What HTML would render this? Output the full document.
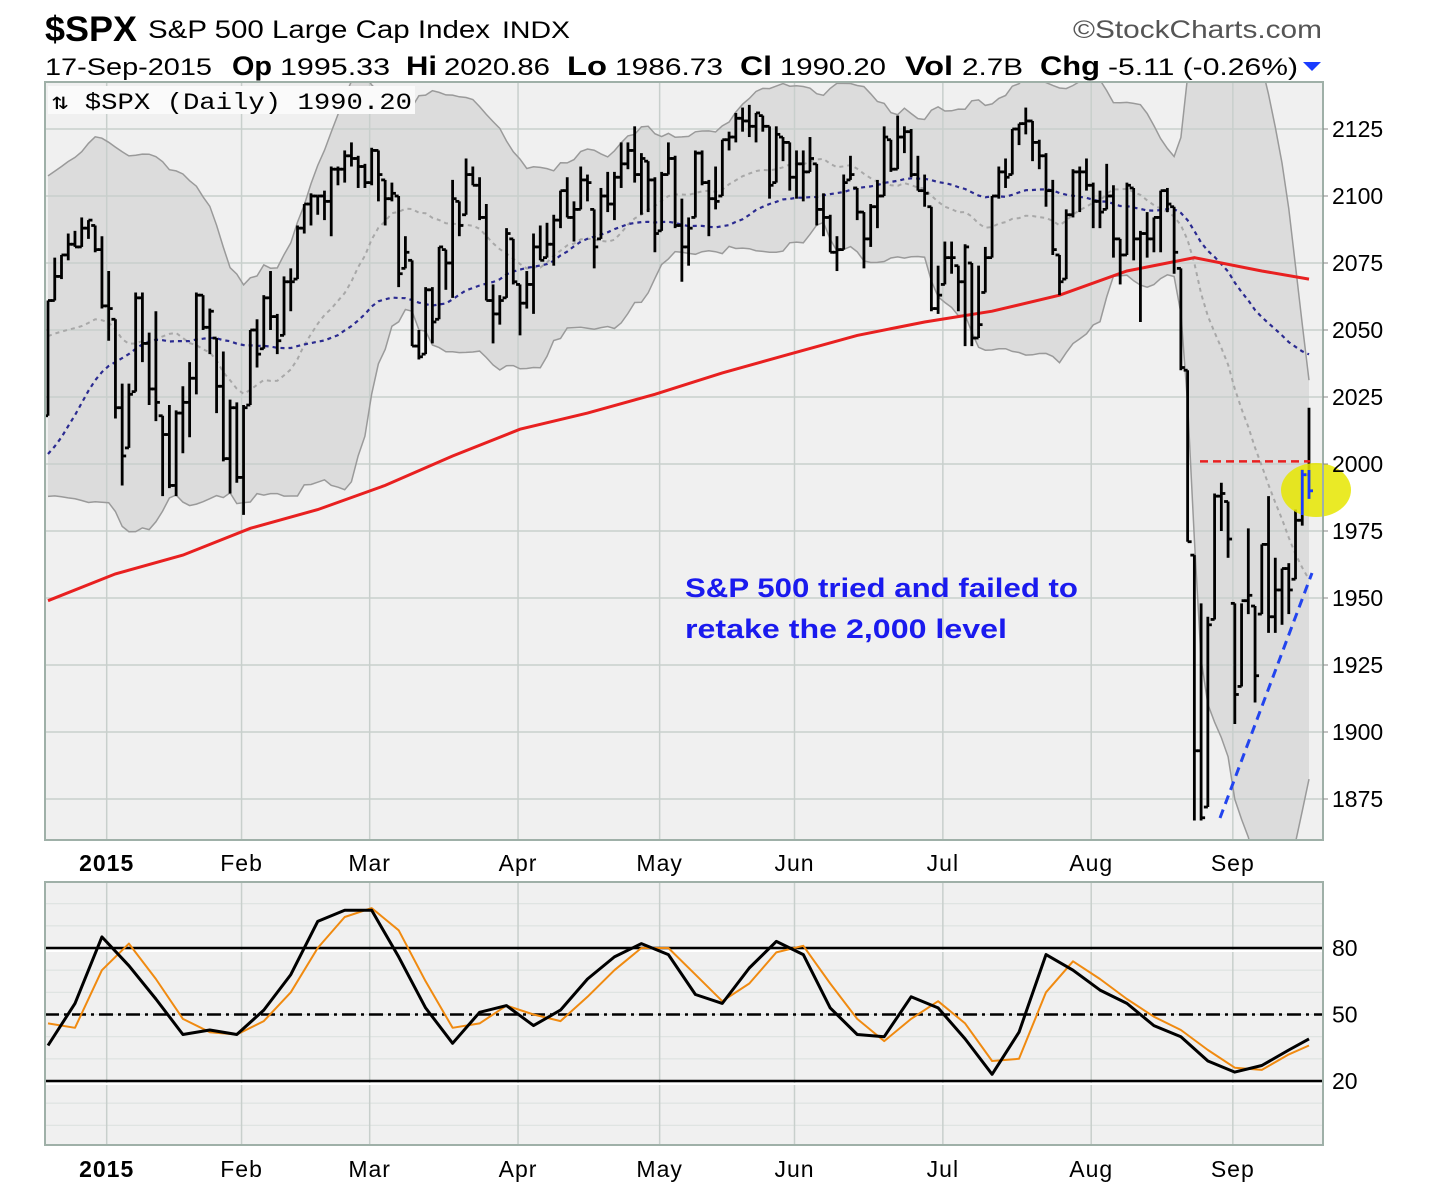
<!DOCTYPE html>
<html><head><meta charset="utf-8"><style>
html,body{margin:0;padding:0;background:#fff;}
svg{display:block;font-family:"Liberation Sans",sans-serif;}
</style></head><body>
<svg id="chart" width="1444" height="1192" viewBox="0 0 1444 1192" xmlns="http://www.w3.org/2000/svg">
<g>
<text x="45" y="41" font-size="35" font-weight="bold" textLength="92" lengthAdjust="spacingAndGlyphs">$SPX</text>
<text x="148" y="38" font-size="25" textLength="342" lengthAdjust="spacingAndGlyphs">S&amp;P 500 Large Cap Index</text>
<text x="502" y="38" font-size="24" textLength="68" lengthAdjust="spacingAndGlyphs">INDX</text>
<text x="1073" y="38" font-size="25" fill="#555" textLength="249" lengthAdjust="spacingAndGlyphs">©StockCharts.com</text>
<g font-size="24">
<text x="45" y="75" textLength="167" lengthAdjust="spacingAndGlyphs">17-Sep-2015</text>
<text x="232" y="75" font-weight="bold" font-size="27" textLength="40" lengthAdjust="spacingAndGlyphs">Op</text>
<text x="280" y="75" textLength="110" lengthAdjust="spacingAndGlyphs">1995.33</text>
<text x="406" y="75" font-weight="bold" font-size="27" textLength="31" lengthAdjust="spacingAndGlyphs">Hi</text>
<text x="444" y="75" textLength="106" lengthAdjust="spacingAndGlyphs">2020.86</text>
<text x="567" y="75" font-weight="bold" font-size="27" textLength="40" lengthAdjust="spacingAndGlyphs">Lo</text>
<text x="615" y="75" textLength="108" lengthAdjust="spacingAndGlyphs">1986.73</text>
<text x="740" y="75" font-weight="bold" font-size="27" textLength="32" lengthAdjust="spacingAndGlyphs">Cl</text>
<text x="780" y="75" textLength="106" lengthAdjust="spacingAndGlyphs">1990.20</text>
<text x="905" y="75" font-weight="bold" font-size="27" textLength="48" lengthAdjust="spacingAndGlyphs">Vol</text>
<text x="962" y="75" textLength="61" lengthAdjust="spacingAndGlyphs">2.7B</text>
<text x="1040" y="75" font-weight="bold" font-size="27" textLength="60" lengthAdjust="spacingAndGlyphs">Chg</text>
<text x="1108" y="75" textLength="190" lengthAdjust="spacingAndGlyphs">-5.11 (-0.26%)</text>
<polygon points="1303,62 1321,62 1312,71" fill="#1a3cff"/>
</g>
</g>
<g id="main"></g>
<g id="lower"></g>
</svg>
<script>
// ---- data ----
const priorCloses=[1946,1946,1968,1964,1935,1969,1928,1906,1874,1877,1862,1862,1886,1905,1942,1951,1928,1950,1964,1962,1982,1985,2018,
2017,2012,2023,2032,2031,2038,2039,2039,2038,2039,2041,2048,2053,2051,2063,2068,2069,2073,2067,
2053,2066,2075,2072,2076,2061,2059,2027,2035,2003,1990,1973,2012];
const highs=[2061,2077,2078,2086,2087,2092,2091,2089,2085,
2072,2054,2030,2030,2064,2064,2049,2057,2018,2022,2020,2029,2038,2064,2063,2058,2047,2042,2024,2023,
2022,2050,2054,2063,2072,2056,2070,2073,2089,2097,2101,2100,2102,2111,2111,2117,2120,2115,2112,
2118,2117,2106,2105,2100,2085,2076,2050,2066,2066,2081,2080,2106,2098,2114,2111,2107,2097,2067,2063,2088,2084,
2067,2072,2086,2089,2090,2093,2102,2107,2098,2111,2108,2095,2103,2109,2109,2120,2120,2126,2116,2113,2107,
2109,2120,2115,2099,2092,2117,2117,2106,2111,2121,2124,2131,2133,2134,2131,2130,2126,2126,2122,2120,
2117,2117,2122,2112,2101,2093,2085,2108,2115,2103,2094,2097,2106,2126,2121,2130,2126,2125,2115,2108,2096,2074,
2083,2083,2074,2082,2075,2074,2081,2100,2111,2114,2125,2127,2133,2128,2121,2116,2106,2078,2095,2110,2111,2114,
2105,2102,2112,2104,2084,2105,2103,2087,2094,2092,2102,2103,2096,2073,2035,1966,1948,1943,1989,1993,1986,
1948,1948,1976,1947,1970,1988,1965,1961,1963,1983,1998,2021];
const lows=[2018,2061,2069,2076,2081,2081,2084,2079,2058,
2046,2017,1992,2006,2027,2038,2022,2016,1988,1991,1988,2004,2010,2026,2050,2041,2019,2001,1989,1993,
1981,2022,2036,2043,2050,2041,2048,2057,2069,2086,2089,2093,2091,2085,2104,2105,2111,2103,2103,
2104,2098,2089,2098,2066,2073,2044,2039,2041,2045,2054,2065,2062,2085,2093,2104,2091,2061,2045,2052,2062,2067,
2048,2058,2056,2076,2077,2074,2088,2092,2083,2095,2098,2073,2084,2094,2091,2103,2110,2105,2093,2094,2079,
2087,2108,2088,2068,2074,2092,2104,2085,2095,2100,2117,2120,2124,2122,2120,2124,2099,2105,2113,2102,
2099,2098,2109,2089,2085,2079,2072,2080,2106,2091,2073,2081,2088,2100,2109,2110,2116,2107,2102,2096,2057,2056,
2067,2071,2057,2044,2044,2047,2064,2077,2099,2103,2108,2119,2123,2113,2110,2096,2078,2063,2069,2092,2094,2102,
2088,2088,2095,2077,2067,2078,2076,2053,2077,2079,2079,2094,2071,2035,1971,1867,1867,1872,1942,1975,1965,
1903,1917,1944,1911,1944,1937,1937,1940,1944,1957,1977,1987];
const closes=[2061,2070,2078,2082,2081,2088,2091,2080,2059,
2058,2021,2003,2026,2062,2045,2028,2023,2011,1992,2019,2023,2032,2063,2051,2057,2029,2002,2021,1995,
2021,2050,2041,2062,2055,2046,2068,2068,2088,2097,2100,2100,2098,2110,2110,2115,2114,2111,2105,
2117,2108,2099,2101,2071,2079,2044,2040,2065,2053,2081,2075,2099,2089,2108,2104,2092,2061,2056,2061,2086,2068,
2060,2067,2081,2076,2082,2091,2102,2092,2095,2106,2105,2081,2100,2097,2107,2112,2117,2108,2114,2106,2086,
2108,2114,2089,2081,2088,2116,2105,2099,2098,2121,2122,2129,2128,2126,2131,2126,2104,2123,2120,2107,
2112,2109,2114,2095,2092,2079,2080,2105,2108,2094,2084,2096,2100,2122,2110,2122,2124,2108,2102,2101,2058,2063,
2077,2077,2068,2081,2047,2052,2077,2100,2109,2107,2125,2127,2128,2120,2115,2102,2080,2068,2093,2109,2109,2104,
2098,2094,2100,2084,2078,2104,2084,2086,2084,2092,2102,2097,2079,2036,1971,1893,1868,1940,1988,1989,1972,
1914,1949,1951,1921,1970,1943,1953,1961,1953,1979,1996,1990];
// 200-day moving average, one value every 10 bars (last = final bar)
const ma200=[1949,1959,1966,1976,1983,1992,2003,2013,2019,2026,2034,2041,2048,2053,2057,2063,2072,2077,2072,2069];
// stochastic %K and %D, one value every 4 bars (last = final bar)
const stochK=[36,55,85,72,57,41,43,41,52,68,92,97,97,76,53,37,51,54,45,52,66,76,82,77,59,55,71,83,77,53,41,40,58,53,39,23,42,77,70,61,55,45,40,29,24,27,34,39];
const stochD=[46,44,70,82,66,48,42,41,47,60,80,94,98,88,65,44,46,54,50,47,58,70,80,80,68,56,64,78,81,64,48,38,48,56,46,29,30,60,74,66,57,49,43,34,26,25,32,36];
const priceTicks=[1875,1900,1925,1950,1975,2000,2025,2050,2075,2100,2125];
const oscTicks=[20,50,80];
const monthLabels=["2015","Feb","Mar","Apr","May","Jun","Jul","Aug","Sep"];
const monthStartIdx=[9,29,48,70,91,111,133,155,176];

// ---- geometry ----
const NS="http://www.w3.org/2000/svg";
const L=45,R=1323,T=82,B=840,LT=882,LB=1145;
const N=closes.length;
const xs=i=>48+i*(1309-48)/(N-1);
const ys=v=>464-(v-2000)*2.68;
const yo=v=>948-(v-80)*(133/60);
function mk(tag,attrs,parent){const e=document.createElementNS(NS,tag);for(const k in attrs)e.setAttribute(k,attrs[k]);parent.appendChild(e);return e;}
const main=document.getElementById('main'),lower=document.getElementById('lower');
const clipM=mk('clipPath',{id:'cm'},main);mk('rect',{x:L,y:T,width:R-L,height:B-T},clipM);
const clipL=mk('clipPath',{id:'cl'},lower);mk('rect',{x:L,y:LT,width:R-L,height:LB-LT},clipL);

const bg=mk('rect',{x:L,y:T,width:R-L,height:B-T,fill:'#f0f0f0'},main);


const gm=mk('g',{'clip-path':'url(#cm)'},main);

const all=priorCloses.concat(closes),off=priorCloses.length;
function sma(i,n){let s=0;for(let k=0;k<n;k++)s+=all[off+i-k];return s/n;}
function sd(i,n){const m=sma(i,n);let s=0;for(let k=0;k<n;k++)s+=(all[off+i-k]-m)**2;return Math.sqrt(s/n);}
let up=[],lo=[],mid=[],m50=[];
for(let i=0;i<N;i++){const m=sma(i,20),d=sd(i,20);mid.push([xs(i),ys(m)]);up.push([xs(i),ys(m+2*d)]);lo.push([xs(i),ys(m-2*d)]);m50.push([xs(i),ys(sma(i,50))]);}
const pts=a=>a.map(p=>p[0].toFixed(1)+','+p[1].toFixed(1)).join(' ');
const band=mk('polygon',{points:pts(up)+' '+pts(lo.slice().reverse()),fill:'#dcdcdc',stroke:'none'},gm);



for(const v of priceTicks){const g=mk('line',{x1:L,x2:R,y1:ys(v),y2:ys(v),stroke:'#c8cfcc','stroke-width':1.5},gm);

}
for(const i of monthStartIdx){const g=mk('line',{x1:xs(i)-2,x2:xs(i)-2,y1:T,y2:B,stroke:'#c8cfcc','stroke-width':1.5},gm);

}

const bu=mk('polyline',{points:pts(up),fill:'none',stroke:'#9a9a9a','stroke-width':1.5},gm);


const bl=mk('polyline',{points:pts(lo),fill:'none',stroke:'#9a9a9a','stroke-width':1.5},gm);


const mm=mk('polyline',{points:pts(mid),fill:'none',stroke:'#a8a8a8','stroke-width':2,'stroke-dasharray':'4,4'},gm);


const s50=mk('polyline',{points:pts(m50),fill:'none',stroke:'#2a2a90','stroke-width':2.2,'stroke-dasharray':'4,4'},gm);


const r200=ma200.map((v,k)=>[xs(Math.min(k*10,N-1)),ys(v)]);
const s200=mk('polyline',{points:pts(r200),fill:'none',stroke:'#e82020','stroke-width':3},gm);



for(let i=0;i<N;i++){
  const x=xs(i),g=mk('g',{stroke:'#000','stroke-width':2.8},gm);
  
  
  const op=i>0?closes[i-1]:lows[i];
  const oy=ys(Math.min(Math.max(op,lows[i]),highs[i]));
  mk('line',{x1:x,x2:x,y1:ys(highs[i]),y2:ys(lows[i])},g);
  mk('line',{x1:x-4,x2:x,y1:oy,y2:oy},g);
  mk('line',{x1:x,x2:x+4,y1:ys(closes[i]),y2:ys(closes[i])},g);
}
const hl=mk('ellipse',{cx:1316,cy:490,rx:35,ry:27,fill:'#e6e600','fill-opacity':0.85},main);


for(const i of [N-2,N-1]){const x=xs(i);const g=mk('g',{stroke:'#1a3cff','stroke-width':2.8},main);


mk('line',{x1:x,x2:x,y1:Math.max(ys(highs[i]),470),y2:Math.min(ys(lows[i]),515)},g);
mk('line',{x1:x,x2:x+4,y1:ys(closes[i]),y2:ys(closes[i])},g);}
const rl=mk('line',{x1:1200,x2:1310,y1:ys(2001),y2:ys(2001),stroke:'#e82020','stroke-width':2.5,'stroke-dasharray':'8,5'},main);


const tl=mk('line',{x1:1220,y1:818,x2:1312,y2:573,stroke:'#2244ee','stroke-width':3,'stroke-dasharray':'9,6'},main);


const t1=mk('text',{x:685,y:597,'font-size':27,'font-weight':'bold',fill:'#1a1aee',textLength:393,lengthAdjust:'spacingAndGlyphs'},main);
t1.textContent='S&P 500 tried and failed to';


const t2=mk('text',{x:685,y:638,'font-size':27,'font-weight':'bold',fill:'#1a1aee',textLength:322,lengthAdjust:'spacingAndGlyphs'},main);
t2.textContent='retake the 2,000 level';


const lg=mk('rect',{x:48,y:86,width:367,height:28,fill:'#fafafa'},main);


const lt=mk('text',{x:52,y:109,'font-size':23,'font-family':'Liberation Mono, monospace',textLength:360,lengthAdjust:'spacingAndGlyphs'},main);
lt.textContent='⇅ $SPX (Daily) 1990.20';


const bm=mk('rect',{x:L,y:T,width:R-L,height:B-T,fill:'none',stroke:'#9fb0a8','stroke-width':2},main);


for(const v of priceTicks){const t=mk('text',{x:1332,y:ys(v)+8,'font-size':23},main);t.textContent=v;


mk('line',{x1:R,x2:R+5,y1:ys(v),y2:ys(v),stroke:'#888'},main);}
function months(y){monthLabels.forEach((m,k)=>{const t=mk('text',{x:xs(monthStartIdx[k])-2,y:y,'font-size':23,'text-anchor':'middle','font-weight':k==0?'bold':'normal','letter-spacing':'1'},main);t.textContent=m;

});}
months(871);months(1177);

const lbg=mk('rect',{x:L,y:LT,width:R-L,height:LB-LT,fill:'#f0f0f0'},lower);


const gl=mk('g',{'clip-path':'url(#cl)'},lower);
for(let v=-10;v<=110;v+=10){mk('line',{x1:L,x2:R,y1:yo(v),y2:yo(v),stroke:'#dde2e0','stroke-width':1.2},gl);}
for(const i of monthStartIdx){mk('line',{x1:xs(i)-2,x2:xs(i)-2,y1:LT,y2:LB,stroke:'#c8cfcc','stroke-width':1.5},gl);}
for(const v of [20,80]){const l=mk('line',{x1:L,x2:R,y1:yo(v),y2:yo(v),stroke:'#000','stroke-width':2.5},gl);


mk('line',{x1:L,x2:R,y1:yo(v)+3,y2:yo(v)+3,stroke:'#fff','stroke-width':2},gl);}
const l50=mk('line',{x1:L,x2:R,y1:yo(50),y2:yo(50),stroke:'#000','stroke-width':2.5,'stroke-dasharray':'14,5,3,5'},gl);


const ix=k=>xs(Math.min(k*4,N-1));
const dl=mk('polyline',{points:stochD.map((v,k)=>ix(k).toFixed(1)+','+yo(v).toFixed(1)).join(' '),fill:'none',stroke:'#f08a10','stroke-width':2,'stroke-linejoin':'round'},gl);


const kl=mk('polyline',{points:stochK.map((v,k)=>ix(k).toFixed(1)+','+yo(v).toFixed(1)).join(' '),fill:'none',stroke:'#000','stroke-width':3,'stroke-linejoin':'round'},gl);


const lbd=mk('rect',{x:L,y:LT,width:R-L,height:LB-LT,fill:'none',stroke:'#9fb0a8','stroke-width':2},lower);


for(const v of oscTicks){const t=mk('text',{x:1332,y:yo(v)+8,'font-size':23},lower);t.textContent=v;

}
</script>
</body></html>
